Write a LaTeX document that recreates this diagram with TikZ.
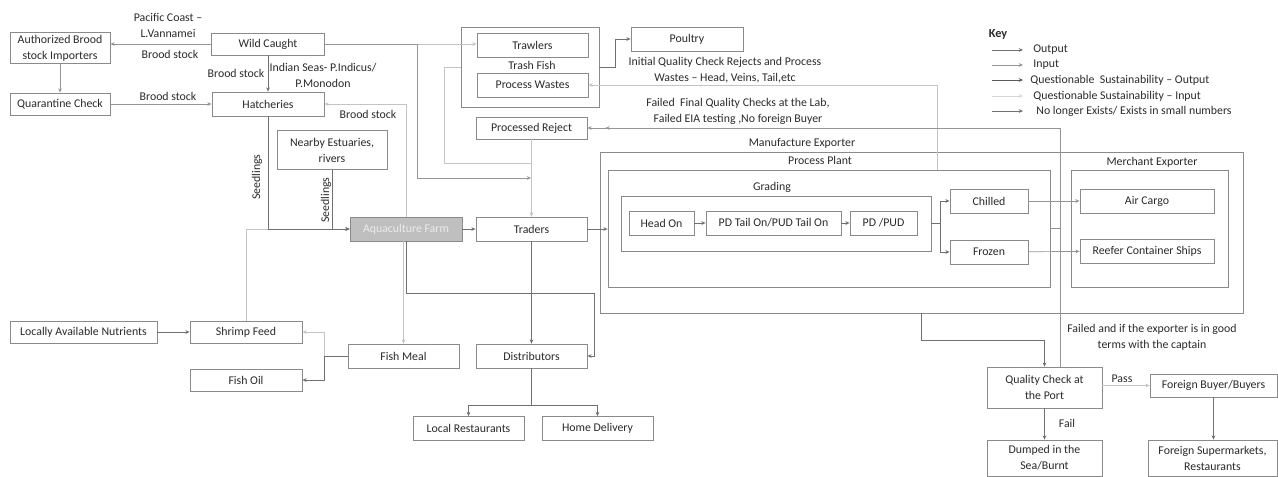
\documentclass[tikz,border=0pt]{standalone}
\usepackage{fontspec}
\setmainfont{Carlito}
\usetikzlibrary{arrows.meta}

\definecolor{boxline}{HTML}{8A8A8A}
\definecolor{lndark}{HTML}{707070}
\definecolor{lnmid}{HTML}{959595}
\definecolor{lnlight}{HTML}{C4C4C4}
\definecolor{txt}{HTML}{2A2A2A}
\definecolor{farmfill}{HTML}{BFBFBF}

\begin{document}
\begin{tikzpicture}[
x=0.03cm, y=-0.03cm,
every node/.style={font=\fontsize{10.1}{13.6}\selectfont, text=txt},
box/.style={
    draw=boxline,
    line width=0.7pt,
    fill=white,
    minimum width=3.36cm,
    minimum height=0.72cm,
    inner sep=2pt,
    align=center
},
group/.style={draw=boxline, line width=0.7pt, inner sep=0pt},
lbl/.style={inner sep=1pt, align=center},
>={Stealth[length=3.6pt,width=3.2pt]},
dk/.style={draw=lndark, line width=0.6pt, ->},
md/.style={draw=lnmid, line width=0.6pt, ->},
lt/.style={draw=lnlight, line width=0.6pt, ->}
]
\useasboundingbox (0,0) rectangle (1278,477);

% outer groups
\node[group, minimum width=4.14cm, minimum height=2.4cm] (fleet) at (530,67) {};
\node[group, minimum width=19.29cm, minimum height=4.83cm] (manuf) at (921.5,232.5) {};
\node[group, minimum width=13.26cm, minimum height=3.51cm] (plant) at (829,228.5) {};
\node[group, minimum width=9.3cm, minimum height=1.65cm] (grading) at (776,223.5) {};
\node[group, minimum width=4.71cm, minimum height=3.51cm] (merch) at (1149.5,228.5) {};

% sources
\node[box, minimum width=3cm, minimum height=0.9cm] (auth) at (60,48) {Authorized Brood\\stock Importers};
\node[box, minimum width=3.39cm, minimum height=0.66cm] (wild) at (268,44) {Wild Caught};
\node[box, minimum width=3cm, minimum height=0.66cm] (quar) at (60,104) {Quarantine Check};
\node[box] (hatch) at (268,104) {Hatcheries};
\node[box, minimum width=3.3cm, minimum height=1.17cm] (est) at (332,150) {Nearby Estuaries,\\rivers};
\node[box, fill=farmfill, text=white!92!black] (farm) at (406,229) {Aquaculture Farm};
\node[box, minimum width=3.33cm] (traders) at (531.5,229) {Traders};

% trawl side
\node[box, minimum width=3.33cm] (trawl) at (532.5,45) {Trawlers};
\node[box, minimum width=3.33cm] (wastes) at (532.5,85) {Process Wastes};
\node[box] (poultry) at (687,39) {Poultry};
\node[box, minimum width=3.33cm, minimum height=0.66cm] (reject) at (531.5,128) {Processed Reject};

% feed
\node[box, minimum width=4.41cm, minimum height=0.66cm] (nutr) at (83.5,332) {Locally Available Nutrients};
\node[box, minimum height=0.66cm] (feed) at (246,332) {Shrimp Feed};
\node[box, minimum height=0.66cm] (oil) at (246,380) {Fish Oil};
\node[box, minimum width=3.33cm] (meal) at (403.5,356) {Fish Meal};
\node[box, minimum width=3.33cm] (distr) at (531.5,356) {Distributors};
\node[box, minimum width=3.33cm] (local) at (468.5,428.5) {Local Restaurants};
\node[box, minimum width=3.33cm] (home) at (597.5,428.5) {Home Delivery};

% plant
\node[box, minimum width=1.95cm] (head) at (661.5,223) {Head On};
\node[box, minimum width=4.05cm] (pdtail) at (773.5,223) {PD Tail On/PUD Tail On};
\node[box, minimum width=2.01cm] (pd) at (883.5,223) {PD /PUD};
\node[box, minimum width=2.34cm] (chilled) at (989,201) {Chilled};
\node[box, minimum width=2.34cm] (frozen) at (989,252) {Frozen};
\node[box, minimum width=4.02cm] (air) at (1147,201) {Air Cargo};
\node[box, minimum width=4.02cm] (reefer) at (1147,251) {Reefer Container Ships};

% port
\node[box, minimum width=3.45cm, minimum height=1.23cm] (qc) at (1044.5,387.5) {Quality Check at\\the Port};
\node[box, minimum width=3.81cm, minimum height=0.69cm] (buyer) at (1213.5,385.5) {Foreign Buyer/Buyers};
\node[box, minimum width=3.45cm, minimum height=1.08cm] (dumped) at (1044.5,458) {Dumped in the\\Sea/Burnt};
\node[box, minimum width=3.87cm, minimum height=1.08cm] (market) at (1212.5,458) {Foreign Supermarkets,\\Restaurants};

% labels
\node[lbl] (lpac) at (168,25.5) {Pacific Coast –\\L.Vannamei};
\node[lbl] (lbs1) at (170,54) {Brood stock};
\node[lbl] (lbs2) at (236,73) {Brood stock};
\node[lbl] (lind) at (323,75) {Indian Seas- P.Indicus/\\P.Monodon};
\node[lbl] (lbs3) at (168,96) {Brood stock};
\node[lbl] (lbs4) at (368,114) {Brood stock};
\node[lbl, rotate=90] (lseed1) at (257,177) {Seedlings};
\node[lbl, rotate=90] (lseed2) at (326,200) {Seedlings};
\node[lbl] (ltrash) at (532,65) {Trash Fish};
\node[lbl] (linit) at (725,70) {Initial Quality Check Rejects and Process\\Wastes – Head, Veins, Tail,etc};
\node[lbl] (lfail) at (738,111) {Failed~ Final Quality Checks at the Lab,\\Failed EIA testing ,No foreign Buyer};
\node[lbl] (lmanuf) at (802,143) {Manufacture Exporter};
\node[lbl] (lplant) at (820,160) {Process Plant};
\node[lbl] (lgrad) at (772,187) {Grading};
\node[lbl] (lmerch) at (1152,162) {Merchant Exporter};
\node[lbl] (lcapt) at (1152,337) {Failed and if the exporter is in good\\terms with the captain};
\node[lbl] (lpass) at (1122,379) {Pass};
\node[lbl] (lfl) at (1067,423) {Fail};

% key
\node[lbl, font=\fontsize{10.5}{12}\selectfont\bfseries] (key) at (998,34) {Key};
\node[lbl, anchor=west] (kout) at (1032,50) {Output};
\node[lbl, anchor=west] (kin) at (1032,65) {Input};
\node[lbl, anchor=west] (kqo) at (1029,80) {Questionable~ Sustainability – Output};
\node[lbl, anchor=west] (kqi) at (1032,96) {Questionable Sustainability – Input};
\node[lbl, anchor=west] (kno) at (1035,111) {No longer Exists/ Exists in small numbers};
\draw[dk] ([xshift=-1.2cm]kout.west) -- ([xshift=-0.27cm]kout.west);
\draw[md] ([xshift=-1.2cm]kin.west) -- ([xshift=-0.27cm]kin.west);
\draw[dk, draw=lndark!80!black] ([xshift=-1.11cm]kqo.west) -- ([xshift=-0.18cm]kqo.west);
\draw[lt, draw=lnlight!70] ([xshift=-1.2cm]kqi.west) -- ([xshift=-0.27cm]kqi.west);
\draw[dk] ([xshift=-1.29cm]kno.west) -- ([xshift=-0.36cm]kno.west);

% brood stock
\draw[md] (wild.west) -- (wild.west -| auth.east);
\draw[md] (auth) -- (quar);
\draw[md] (quar) -- (quar -| hatch.west);
\draw[dk] (wild) -- (hatch);
\draw[lt] (farm.north) |- (hatch.east);

% into the farm
\draw[lt] (feed.north) |- (farm.west);
\draw[dk] (hatch.south) |- (farm.west);
\draw[dk] (est.south) |- (farm.west);

% wild and trawl catch
\draw[lt] (wild.east) -- (wild.east -| trawl.west);
\draw[md] (wild.east) -| (417,178) -- (531,178);
\draw[lt] (fleet.west) -| (444,163) -| (traders.north);
\draw[lt] (reject) -- (traders);
\draw[dk] (fleet.east) -- ++(16,0) |- (poultry.west);

% farm outputs
\draw[dk] (farm) -- (traders);
\draw[dk] (traders.east) -- (traders.east -| plant.west);
\draw[dk] (traders) -- (distr);
\draw[dk] (farm.south) |- (594,293) |- (distr.east);
\draw[lt] (farm.south -| meal.north) -- (meal.north);
\draw[lt] (meal.west) -- ++(-23,0) |- (feed.east);
\draw[dk] (meal.west) -- ++(-23,0) |- (oil.east);
\draw[dk] (nutr) -- (feed);
\draw[dk] (distr.south) -- ++(0,37) -| (local.north);
\draw[dk] (distr.south) -- ++(0,37) -| (home.north);

% process plant
\draw[dk] (head) -- (pdtail);
\draw[dk] (pdtail) -- (pd);
\draw[dk] (grading.east) -- ++(9,0) |- (chilled.west);
\draw[dk] (grading.east) -- ++(9,0) |- (frozen.west);
\draw[md] (chilled) -- (air);
\draw[md] (frozen) -- (reefer);
\draw[lt] (plant.north) ++(108,0) |- (wastes.east);
\draw[md] (plant.east) -- ++(10,0) |- ([xshift=0.54cm]reject.east);
\draw[md] (qc.north) ++(15.5,0) |- (reject.east);

% port
\draw[dk] (manuf.south) -- ++(0,27) -| (qc.north);
\draw[lt] (buyer.west -| qc.east) -- (buyer.west);
\draw[dk] (qc) -- (dumped);
\draw[dk] (buyer) -- (buyer |- market.north);

\end{tikzpicture}
\end{document}
